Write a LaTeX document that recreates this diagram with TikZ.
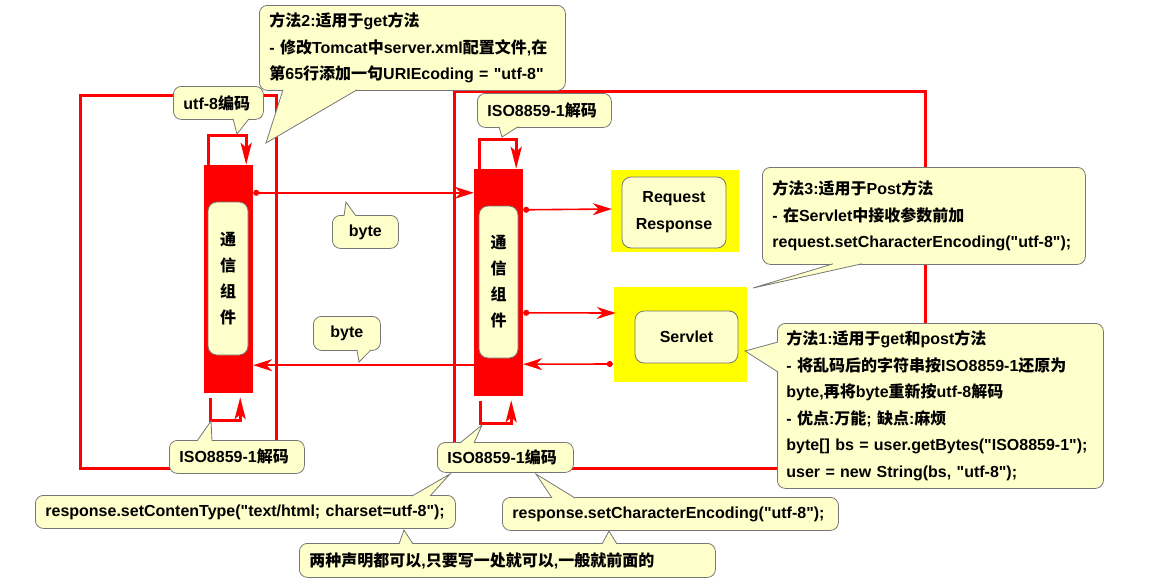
\documentclass[tikz,border=0pt]{standalone}
\usepackage{fontspec}
\setmainfont{Liberation Sans}[Ligatures=TeXOff]
\newfontfamily\zhfont{Noto Sans CJK SC}
\newcommand\zh[1]{{\zhfont #1}}
\usetikzlibrary{arrows.meta,calc}
\definecolor{cbred}{HTML}{FF0000}
\definecolor{cbyellow}{HTML}{FFFF00}
\definecolor{notefill}{HTML}{FFFFCC}
\definecolor{notegray}{HTML}{767676}

\begin{document}
\begin{tikzpicture}[x=1pt, y=-1pt,
    zone/.style={draw=cbred, line width=3pt},
    commbar/.style={fill=cbred, minimum width=49pt, minimum height=227pt, inner sep=0pt},
    comp/.style={draw=notegray, fill=notefill, rounded corners=9pt, line width=0.8pt,
                 minimum width=40pt, minimum height=153pt, inner sep=0pt, align=center,
                 font=\zhfont\bfseries\fontsize{16}{26}\selectfont},
    hilite/.style={fill=cbyellow, inner sep=0pt},
    inbox/.style={draw=notegray, fill=notefill, rounded corners=9pt, line width=0.8pt,
                  inner sep=0pt, align=center, font=\bfseries\fontsize{16}{27}\selectfont},
    note/.style={draw=notegray, fill=notefill, rounded corners=8pt, line width=0.8pt,
                 anchor=north west, inner xsep=10pt, inner ysep=0pt, align=left,
                 text width=#1, font=\bfseries\fontsize{16}{26.5}\selectfont},
    peak/.style={draw=notegray, fill=notefill, line width=0.8pt, line join=miter},
    conn/.style={draw=cbred, line width=1.6pt,
                 {Circle[length=6pt]}-{Stealth[length=19pt, width=12pt, inset=6pt]}},
    backarr/.style={draw=cbred, line width=1.6pt, -{Stealth[length=19pt, width=12pt, inset=6pt]}},
    selfloop/.style={draw=cbred, line width=3pt, -{Stealth[length=22pt, width=11pt, inset=5pt]}},
  ]
  \useasboundingbox (0,0) rectangle (1166,587);

  % client and server frames
  \draw[zone] (80,95) rectangle (276,468);
  \draw[zone] (454,91) rectangle (925,468);

  % communication components
  \node[commbar, minimum height=228pt] (lbar) at (228.5,279) {};
  \node[commbar] (rbar) at (498.5,282.5) {};
  \node[comp] (lcomp) at (228,278.5) {通\\信\\组\\件};
  \node[comp, minimum width=39pt, minimum height=152pt] (rcomp) at (498.5,282) {通\\信\\组\\件};

  % request / response and servlet
  \node[hilite, minimum width=128pt, minimum height=82pt] (req) at (675,211) {};
  \node[inbox, minimum width=104pt, minimum height=71pt] (reqin) at (674,212.5) {Request\\Response};
  \node[hilite, minimum width=133pt, minimum height=95pt] (srv) at (680.5,334.5) {};
  \node[inbox, minimum width=103pt, minimum height=52pt] (srvin) at (686.5,337) {Servlet};

  \draw[conn] ($(lbar.north east)+(0,28)$) -- ($(rbar.north west)+(0,24)$);
  \draw[backarr] ($(rbar.south west)+(0,-31)$) -- ($(lbar.south east)+(0,-28)$);
  \draw[conn] ($(rbar.north east)+(0,41)$) -- ($(req.west)+(1,-2)$);
  \draw[conn] ($(rbar.north east)+(0,144)$) -- ($(srv.west)+(2,-21.5)$);
  \draw[conn] ($(srv.west)+(-1,29.5)$) -- ($(rbar.south east)+(0,-32)$);

  % encode / decode loops
  \draw[selfloop] ($(lbar.north west)+(5,0)$) -- ++(0,-29) -| ($(lbar.north east)+(-7,0)$);
  \draw[selfloop] ($(lbar.south west)+(7,5)$) -- ++(0,22) -| ($(lbar.south east)+(-13,4)$);
  \draw[selfloop] ($(rbar.north west)+(6,0)$) -- ++(0,-29) -| ($(rbar.north east)+(-7,0)$);
  \draw[selfloop] ($(rbar.south west)+(7,5)$) -- ++(0,22) -| ($(rbar.south east)+(-12,4)$);

  % callouts
  \node[note=70pt, minimum height=33pt] (utfnote) at (173,86) {utf-8\zh{编码}};
  \coordinate (utfnote-tip) at (237,134);
  \path[peak] ($(utfnote.south west)+(60,-1)$) -- (utfnote-tip) -- ($(utfnote.south west)+(76,-1)$);

  \node[note=286pt, minimum height=85pt] (way2) at (259,5)
    {\zh{方法}2:\zh{适用于}get\zh{方法}\\- \zh{修改}Tomcat\zh{中}server.xml\zh{配置文件},\zh{在}\\\zh{第}65\zh{行添加一句}URIEcoding = "utf-8"};
  \coordinate (way2-tip) at (266,143);
  \path[peak] ($(way2.south west)+(24,-1)$) -- (way2-tip) -- ($(way2.south west)+(98,-1)$);

  \node[note=114pt, minimum height=34pt] (isodec1) at (477,93) {ISO8859-1\zh{解码}};
  \coordinate (isodec1-tip) at (502,137);
  \path[peak] ($(isodec1.south west)+(22,-1)$) -- (isodec1-tip) -- ($(isodec1.south west)+(41,-1)$);

  \node[note=46pt, minimum height=33pt, align=center] (byteup) at (332,215) {byte};
  \coordinate (byteup-tip) at (346,202);
  \path[peak] ($(byteup.north west)+(12,1)$) -- (byteup-tip) -- ($(byteup.north west)+(24,1)$);

  \node[note=47pt, minimum height=34pt, align=center] (bytedown) at (313,316) {byte};
  \coordinate (bytedown-tip) at (359,362);
  \path[peak] ($(bytedown.south west)+(44,-1)$) -- (bytedown-tip) -- ($(bytedown.south west)+(58,-1)$);

  \node[note=115pt, minimum height=33pt] (isodec2) at (169,440) {ISO8859-1\zh{解码}};
  \coordinate (isodec2-tip) at (211,421);
  \path[peak] ($(isodec2.north west)+(28,1)$) -- (isodec2-tip) -- ($(isodec2.north west)+(43,1)$);

  \node[note=116pt, minimum height=30pt] (isoenc) at (437,442) {ISO8859-1\zh{编码}};
  \coordinate (isoenc-tip) at (482,425);
  \path[peak] ($(isoenc.north west)+(23,1)$) -- (isoenc-tip) -- ($(isoenc.north west)+(37,1)$);

  \node[note=412pt, inner xsep=4pt, minimum height=33pt] (ctype) at (35,495) {\hspace{6pt}response.setContenType("text/html; charset=utf-8");};
  \coordinate (ctype-tip) at (450,474);
  \path[peak] ($(ctype.north west)+(377,1)$) -- (ctype-tip) -- ($(ctype.north west)+(395,1)$);

  \node[note=316pt, minimum height=33pt] (cenc) at (502,497) {response.setCharacterEncoding("utf-8");};
  \coordinate (cenc-tip) at (536,474);
  \path[peak] ($(cenc.north west)+(50,1)$) -- (cenc-tip) -- ($(cenc.north west)+(73,1)$);

  \node[note=396pt, minimum height=34pt] (both) at (299,543) {\zh{两种声明都可以},\zh{只要写一处就可以},\zh{一般就前面的}};
  \coordinate (both-tip1) at (404,530);
  \coordinate (both-tip2) at (609,531);
  \path[peak] ($(both.north west)+(100,1)$) -- (both-tip1) -- ($(both.north west)+(114,1)$);
  \path[peak] ($(both.north west)+(303,1)$) -- (both-tip2) -- ($(both.north west)+(318,1)$);

  \node[note=303pt, minimum height=97pt] (way3) at (762,167)
    {\zh{方法}3:\zh{适用于}Post\zh{方法}\\- \zh{在}Servlet\zh{中接收参数前加}\\request.setCharacterEncoding("utf-8");};
  \coordinate (way3-tip) at (753,288);
  \path[peak] ($(way3.south west)+(71,-1)$) -- (way3-tip) -- ($(way3.south west)+(100,-1)$);

  \node[note=308pt, minimum height=165pt, inner xsep=9pt] (way1) at (777,323)
    {\zh{方法}1:\zh{适用于}get\zh{和}post\zh{方法}\\- \zh{将乱码后的字符串按}ISO8859-1\zh{还原为}\\byte,\zh{再将}byte\zh{重新按}utf-8\zh{解码}\\- \zh{优点}:\zh{万能}; \zh{缺点}:\zh{麻烦}\\byte[] bs = user.getBytes("ISO8859-1");\\user = new String(bs, "utf-8");};
  \coordinate (way1-tip) at (745,351);
  \path[peak] ($(way1.north west)+(1,19)$) -- (way1-tip) -- ($(way1.north west)+(1,49)$);
\end{tikzpicture}
\end{document}
